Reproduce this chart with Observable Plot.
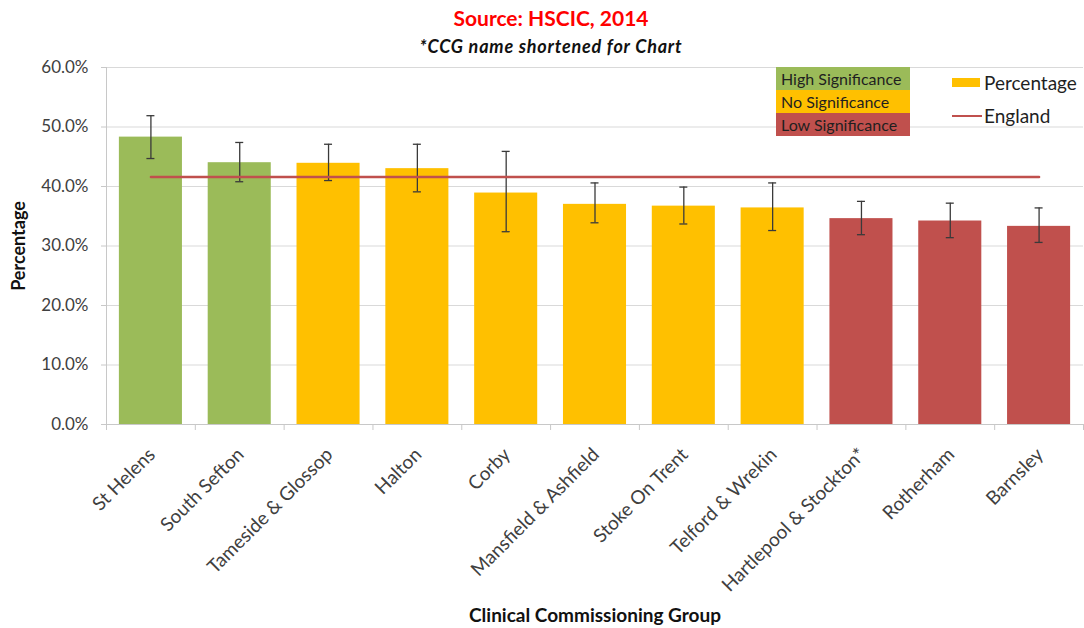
<!DOCTYPE html>
<html>
<head>
<meta charset="utf-8">
<script src="https://cdn.jsdelivr.net/npm/d3@7"></script>
<script src="https://cdn.jsdelivr.net/npm/@observablehq/plot@0.6"></script>
<style>
  html, body { margin: 0; padding: 0; background: #fff; }
  body { width: 1084px; height: 628px; overflow: hidden; font-family: Lato, "Liberation Sans", sans-serif; }
  #wrap { position: relative; width: 1084px; height: 628px; }
  #titles { height: 56px; text-align: center; padding-left: 18px; box-sizing: border-box; }
  #title { color: #ff0000; font-weight: bold; font-size: 21px; line-height: 22px; padding-top: 7px; }
  #subtitle { color: #111; font-weight: bold; font-style: italic; font-size: 18px; line-height: 20px; padding-top: 7px; letter-spacing: 0.8px; }
  .sigbox { position: absolute; left: 776px; width: 134px; height: 23px; font-size: 16px; line-height: 23px; color: #1f1f1f; padding-left: 5px; box-sizing: border-box; white-space: nowrap; }
  .lg { position: absolute; font-size: 19px; line-height: 23px; color: #1f1f1f; white-space: nowrap; }
</style>
</head>
<body>
<div id="wrap">
  <div id="titles">
    <div id="title">Source: HSCIC, 2014</div>
    <div id="subtitle">*CCG name shortened for Chart</div>
  </div>
  <div id="chart"></div>
  <div id="legend"></div>
</div>
<script>
// ---- data ----
const categories = ["St Helens", "South Sefton", "Tameside & Glossop", "Halton", "Corby", "Mansfield & Ashfield", "Stoke On Trent", "Telford & Wrekin", "Hartlepool & Stockton*", "Rotherham", "Barnsley"];
const percentage = [48.3, 44.0, 43.9, 43.0, 38.9, 37.0, 36.7, 36.4, 34.6, 34.2, 33.3];
const lowerCI = [44.7, 40.8, 41.0, 39.1, 32.4, 33.9, 33.7, 32.6, 31.9, 31.4, 30.6];
const upperCI = [51.9, 47.4, 47.1, 47.1, 45.9, 40.6, 39.9, 40.6, 37.5, 37.2, 36.4];
const significance = ["High", "High", "No", "No", "No", "No", "No", "No", "Low", "Low", "Low"];
const englandValue = 41.6;
const yTicks = [0, 10, 20, 30, 40, 50, 60];
const sigLevels = ["High", "No", "Low"];
const sigLabels = ["High Significance", "No Significance", "Low Significance"];
const sigColors = ["#9bbb59", "#ffc000", "#c0504d"];
const englandColor = "#c0504d";

const data = categories.map((name, i) => ({
  name, value: percentage[i], lo: lowerCI[i], hi: upperCI[i], sig: significance[i]
}));

// ---- layout ----
const W = 1084, H = 572;
const mL = 106, mR = 1, mT = 11, mB = 204;
const pInner = 0.29, pOuter = pInner / 2;
const step = (W - mL - mR) / (categories.length - pInner + 2 * pOuter);
const bandW = step * (1 - pInner);
const capInset = bandW / 2 - 4;
const frameH = H - mT - mB;

const chart = Plot.plot({
  width: W, height: H,
  marginLeft: mL, marginRight: mR, marginTop: mT, marginBottom: mB,
  style: { fontFamily: "Lato, 'Liberation Sans', sans-serif", fontSize: "15px", background: "white", overflow: "visible" },
  x: { domain: categories, paddingInner: pInner, paddingOuter: pOuter, round: false, label: null, axis: null },
  y: { domain: [0, 60], label: null, axis: null },
  color: { domain: sigLevels, range: sigColors },
  marks: [
    Plot.gridY(yTicks.slice(1), { stroke: "#d9d9d9", strokeOpacity: 1, strokeWidth: 1 }),
    Plot.ruleY([0], { stroke: "#c8c8c8", strokeWidth: 1 }),
    // category boundary ticks (and y-axis line)
    Plot.ruleX(categories, { x: d => d, dx: -step / 2, stroke: "#c8c8c8", insetTop: frameH, insetBottom: -6 }),
    Plot.ruleX([categories[0]], { x: d => d, dx: -step / 2, stroke: "#c8c8c8", insetBottom: -6 }),
    Plot.ruleX([categories[categories.length - 1]], { x: d => d, dx: step / 2, stroke: "#c8c8c8", insetTop: frameH, insetBottom: -6 }),
    Plot.barY(data, { x: "name", y: "value", fill: "sig" }),
    Plot.ruleX(data, { x: "name", y1: "lo", y2: "hi", stroke: "#3a3a3a", strokeWidth: 1.3 }),
    Plot.tickY(data, { x: "name", y: "lo", stroke: "#3a3a3a", strokeWidth: 1.3, insetLeft: capInset, insetRight: capInset }),
    Plot.tickY(data, { x: "name", y: "hi", stroke: "#3a3a3a", strokeWidth: 1.3, insetLeft: capInset, insetRight: capInset }),
    Plot.line(data, { x: "name", y: () => englandValue, stroke: englandColor, strokeWidth: 2.5 }),
    Plot.axisY(yTicks, { tickSize: 5, tickPadding: 13, stroke: "#c8c8c8", fill: "#404040", fontSize: 17, tickFormat: d => d.toFixed(1) + "%", label: null }),
    Plot.text(categories, { x: d => d, frameAnchor: "bottom", dx: 1, dy: 27, rotate: -45, textAnchor: "end", lineAnchor: "middle", fill: "#404040", fontSize: 19 }),
    Plot.text(["Percentage"], { frameAnchor: "left", dx: -87, rotate: -90, textAnchor: "middle", lineAnchor: "middle", fontWeight: "bold", fontSize: 18, fill: "#111" }),
    Plot.text(["Clinical Commissioning Group"], { frameAnchor: "bottom", dy: 191, textAnchor: "middle", lineAnchor: "middle", fontWeight: "bold", fontSize: 19, fill: "#111" })
  ]
});
document.getElementById("chart").appendChild(chart);

// ---- legend (overlay) ----
const legend = document.getElementById("legend");
sigLabels.forEach((label, i) => {
  const d = document.createElement("div");
  d.className = "sigbox";
  d.style.top = (67 + i * 23) + "px";
  d.style.background = sigColors[i];
  d.textContent = label;
  legend.appendChild(d);
});
const sw = document.createElement("div");
sw.style.cssText = "position:absolute;left:952px;top:78px;width:28px;height:9px;background:" + sigColors[1];
legend.appendChild(sw);
const t1 = document.createElement("div");
t1.className = "lg"; t1.style.left = "984px"; t1.style.top = "71px"; t1.textContent = "Percentage";
legend.appendChild(t1);
const ln = document.createElement("div");
ln.style.cssText = "position:absolute;left:952px;top:115px;width:30px;height:2px;background:" + englandColor;
legend.appendChild(ln);
const t2 = document.createElement("div");
t2.className = "lg"; t2.style.left = "984px"; t2.style.top = "104px"; t2.textContent = "England";
legend.appendChild(t2);
</script>
</body>
</html>
